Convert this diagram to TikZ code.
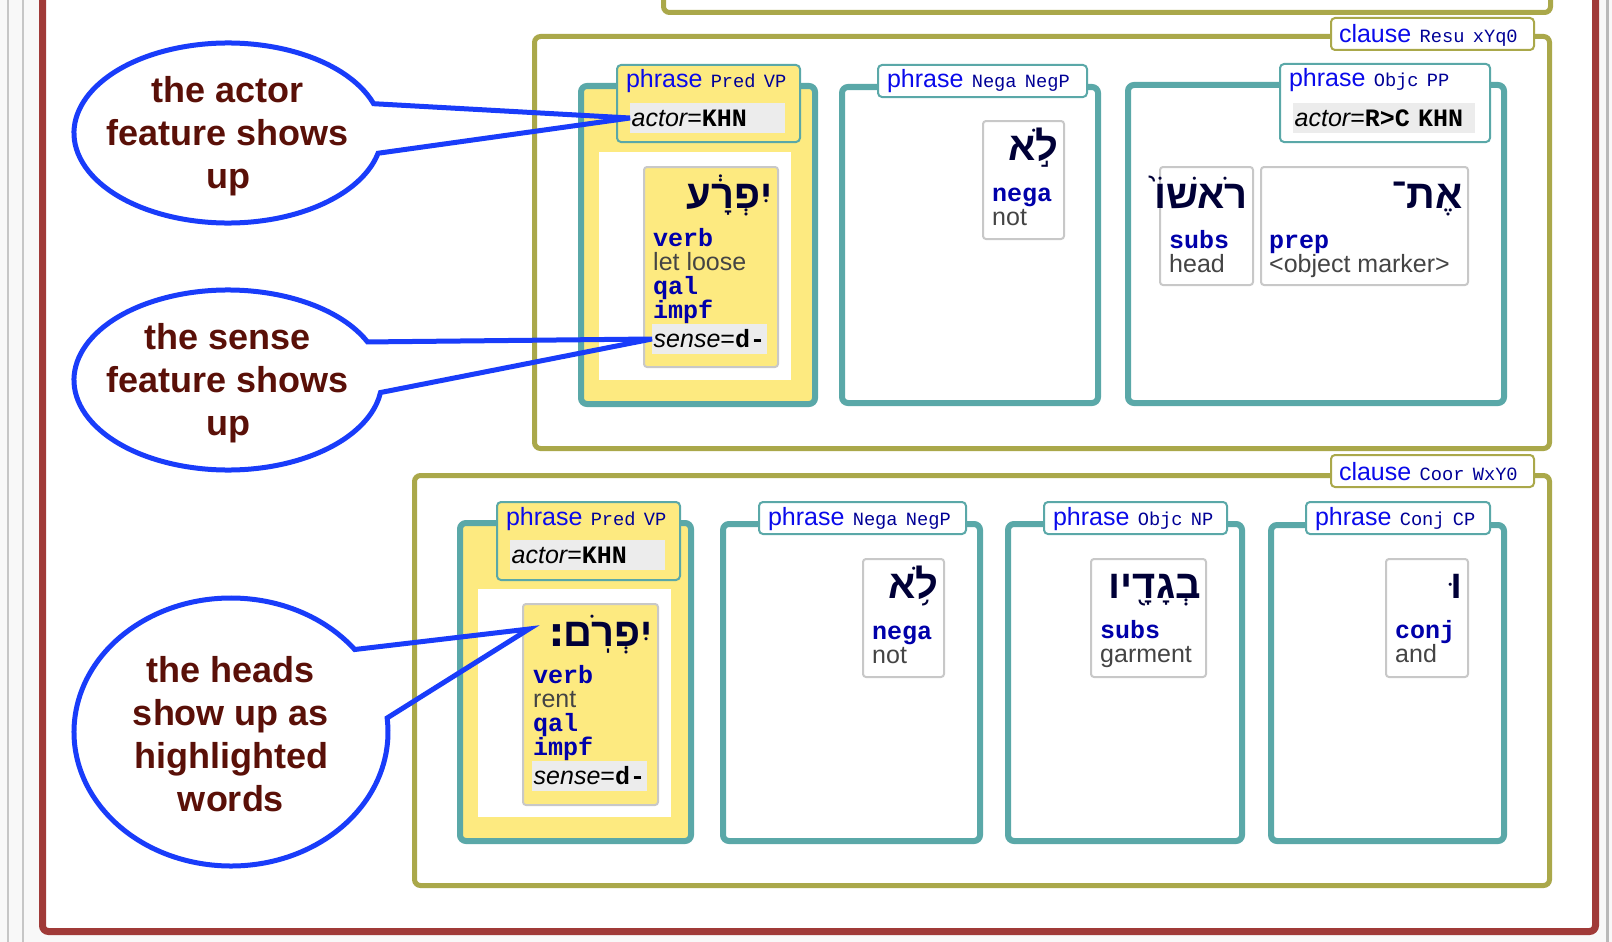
\documentclass[tikz,border=0pt]{standalone}
\usepackage{fontspec}
\setmainfont{Liberation Sans}
\newfontfamily\monofont{Liberation Mono}
\newfontfamily\hebfont[Script=Hebrew]{Liberation Sans}
\newfontfamily\hebalt[Script=Hebrew]{DejaVu Sans}
\TeXXeTstate=1
\usetikzlibrary{shapes.geometric,calc}
\definecolor{framered}{RGB}{160,58,56}
\definecolor{clauseline}{RGB}{170,168,74}
\definecolor{phraseline}{RGB}{90,168,168}
\definecolor{headyellow}{RGB}{253,234,128}
\definecolor{wordline}{RGB}{200,200,200}
\definecolor{fieldgray}{RGB}{236,236,236}
\definecolor{typeblue}{RGB}{10,10,235}
\definecolor{codeblue}{RGB}{0,0,150}
\definecolor{posblue}{RGB}{0,0,170}
\definecolor{glossgray}{RGB}{68,68,68}
\definecolor{hebink}{RGB}{0,0,55}
\definecolor{noteblue}{RGB}{25,60,250}
\definecolor{notebrown}{RGB}{90,16,8}
\definecolor{pagegray}{RGB}{248,248,248}
\newcommand{\lblcode}[1]{{\monofont\fontsize{18.7pt}{20pt}\selectfont\color{codeblue}#1}}
\newcommand{\posw}[1]{{\monofont\bfseries\color{posblue}#1}}
\newcommand{\valw}[1]{{\monofont\bfseries #1}}

\begin{document}
\begin{tikzpicture}[x=1pt, y=-1pt,
box/.style={anchor=north west, inner sep=0pt, rounded corners=6pt},
clausebox/.style={box, draw=clauseline, line width=5pt, fill=white},
phrasebox/.style={box, draw=phraseline, line width=6pt, fill=white},
wordbox/.style={box, draw=wordline, line width=2pt, rounded corners=3pt, fill=white},
tagbox/.style={anchor=north west, draw=phraseline, line width=2pt, rounded corners=4pt, fill=white, inner xsep=9pt, inner ysep=0pt, align=left, text height=23pt, text depth=9pt, text=typeblue, font=\fontsize{25pt}{28pt}\selectfont},
clausetag/.style={tagbox, draw=clauseline, inner xsep=8pt, text height=25pt, text depth=7pt},
field/.style={anchor=base west, fill=fieldgray, inner xsep=1.5pt, inner ysep=0pt, align=left, text height=23pt, text depth=7pt, text=black, font=\fontsize{25pt}{28pt}\selectfont},
heb/.style={anchor=base east, inner sep=0pt, text=hebink, font=\hebfont\bfseries\fontsize{40pt}{40pt}\selectfont},
gloss/.style={anchor=base west, inner sep=0pt, align=left, text=glossgray, font=\fontsize{25pt}{23.7pt}\selectfont},
note/.style={ellipse, inner sep=0pt, minimum width=308pt, minimum height=180pt, align=center, text=notebrown, font=\bfseries\fontsize{36pt}{43pt}\selectfont},
pointer/.style={draw=noteblue, line width=5pt}]
\useasboundingbox (0,0) rectangle (1612,942);
\clip (0,0) rectangle (1612,942);
\fill[pagegray] (0,0) rectangle (1612,942);
\draw[gray!45, line width=1.5pt] (8,0) -- (8,942) (23,0) -- (23,942);
\draw[gray!55, line width=3pt] (1607,0) -- (1607,942);
\node[box, draw=framered, line width=7pt, fill=white, minimum width=1553pt, minimum height=958pt] (1) at (39,-30) {};
\node[clausebox, minimum width=887pt, minimum height=50pt] (2) at (661,-40) {};

\node[clausebox, minimum width=1015pt, minimum height=412pt] (3) at (532,34) {};
\node[clausetag, text width=187pt] (4) at (1330,17) {clause \lblcode{Resu xYq0}};
\node[phrasebox, fill=headyellow, minimum width=234pt, minimum height=318pt] (5) at (578,83) {};
\node[tagbox, fill=headyellow, text width=165pt, text depth=54pt] (6) at (616,64) {phrase \lblcode{Pred VP}};
\node[field, text width=152pt] (7) at (630,126) {{\itshape actor}=\valw{KHN}};
\node[box, fill=white, rounded corners=0pt, minimum width=192pt, minimum height=228pt] (8) at (599,152) {};
\node[wordbox, fill=headyellow, minimum width=134pt, minimum height=200pt] (9) at (643,166) {};
\node[heb] (10) at ($(9.north east)+(-6,42)$) {\beginR יִפְרָ֔ע\endR};
\node[gloss] (11) at ($(9.north west)+(10,152)$) {\posw{verb}\\let loose\\\posw{qal}\\\posw{impf}};
\node[field] (12) at ($(9.north west)+(9,181)$) {{\itshape sense}=\valw{d-}};
\node[phrasebox, minimum width=256pt, minimum height=316pt] (13) at (839,84) {};
\node[tagbox, text width=191pt] (14) at (877,64) {phrase \lblcode{Nega NegP}};
\node[wordbox, minimum width=81pt, minimum height=118pt] (15) at (982,120) {};
\node[heb] (16) at ($(15.north east)+(-6,40)$) {\beginR לֹ֣א\endR};
\node[gloss] (17) at ($(15.north west)+(10,105)$) {\posw{nega}\\not};
\node[phrasebox, minimum width=376pt, minimum height=318pt] (18) at (1125,82) {};
\node[tagbox, text width=192pt, text depth=55pt] (19) at (1279,63) {phrase \lblcode{Objc PP}};
\node[field, text width=179pt] (20) at (1293,126) {{\itshape actor}=\valw{R>C KHN}};
\node[wordbox, minimum width=93pt, minimum height=118pt] (21) at (1159,166) {};
\node[heb] (22) at ($(21.north east)+(-6,42)$) {\beginR רֹאשׁוֹ֙\endR};
\node[gloss] (23) at ($(21.north west)+(10,106)$) {\posw{subs}\\head};
\node[wordbox, minimum width=207pt, minimum height=118pt] (24) at (1260,166) {};
\node[heb] (25) at ($(24.north east)+(-6,42)$) {\beginR אֶת־\endR};
\node[gloss] (26) at ($(24.north west)+(9,106)$) {\posw{prep}\\<object marker>};

\node[clausebox, minimum width=1135pt, minimum height=410pt] (27) at (412,473) {};
\node[clausetag, text width=187pt] (28) at (1330,454) {clause \lblcode{Coor WxY0}};
\node[phrasebox, fill=headyellow, minimum width=231pt, minimum height=318pt] (29) at (457,520) {};
\node[tagbox, fill=headyellow, text width=165pt, text depth=55pt] (30) at (496,501) {phrase \lblcode{Pred VP}};
\node[field, text width=152pt] (31) at (510,563) {{\itshape actor}=\valw{KHN}};
\node[box, fill=white, rounded corners=0pt, minimum width=193pt, minimum height=228pt] (32) at (478,589) {};
\node[wordbox, fill=headyellow, minimum width=135pt, minimum height=201pt] (33) at (522,603) {};
\node[heb] (34) at ($(33.north east)+(-6,43)$) {\beginR יִפְרֹֽם{\hebalt ׃}\endR};
\node[gloss] (35) at ($(33.north west)+(11,152)$) {\posw{verb}\\rent\\\posw{qal}\\\posw{impf}};
\node[field] (36) at ($(33.north west)+(10,181)$) {{\itshape sense}=\valw{d-}};
\node[phrasebox, minimum width=257pt, minimum height=317pt] (37) at (720,521) {};
\node[tagbox, text width=189pt] (38) at (758,501) {phrase \lblcode{Nega NegP}};
\node[wordbox, minimum width=81pt, minimum height=118pt] (39) at (862,558) {};
\node[heb] (40) at ($(39.north east)+(-6,40)$) {\beginR לֹ֥א\endR};
\node[gloss] (41) at ($(39.north west)+(10,105)$) {\posw{nega}\\not};
\node[phrasebox, minimum width=234pt, minimum height=317pt] (42) at (1005,521) {};
\node[tagbox, text width=165pt] (43) at (1043,501) {phrase \lblcode{Objc NP}};
\node[wordbox, minimum width=115pt, minimum height=118pt] (44) at (1090,558) {};
\node[heb] (45) at ($(44.north east)+(-6,40)$) {\beginR בְגָדָ֖יו\endR};
\node[gloss] (46) at ($(44.north west)+(10,104)$) {\posw{subs}\\garment};
\node[phrasebox, minimum width=233pt, minimum height=316pt] (47) at (1268,522) {};
\node[tagbox, text width=166pt] (48) at (1305,501) {phrase \lblcode{Conj CP}};
\node[wordbox, minimum width=82pt, minimum height=118pt] (49) at (1385,558) {};
\node[heb] (50) at ($(49.north east)+(-6,40)$) {\beginR וּ\endR};
\node[gloss] (51) at ($(49.north west)+(10,104)$) {\posw{conj}\\and};

\node[note] (52) at (228,136) {the actor\\feature shows\\up};
\node[note] (53) at (228,383) {the sense\\feature shows\\up};
\node[note, minimum width=314pt, minimum height=268pt] (54) at (231,734) {the heads\\show up as\\highlighted\\words};
\coordinate (55) at ($(33.north west)+(7,26)$);
\draw[pointer] (228,133) ++(19:154pt and 90pt) arc[start angle=19, end angle=347, x radius=154pt, y radius=90pt] -- (7.west) -- cycle;
\draw[pointer] (228,380) ++(25:154pt and 90pt) arc[start angle=25, end angle=352, x radius=154pt, y radius=90pt] -- (12.west) -- cycle;
\draw[pointer] (231,732) ++(38:157pt and 134pt) arc[start angle=38, end angle=366, x radius=157pt, y radius=134pt] -- (55) -- cycle;
\end{tikzpicture}
\end{document}
